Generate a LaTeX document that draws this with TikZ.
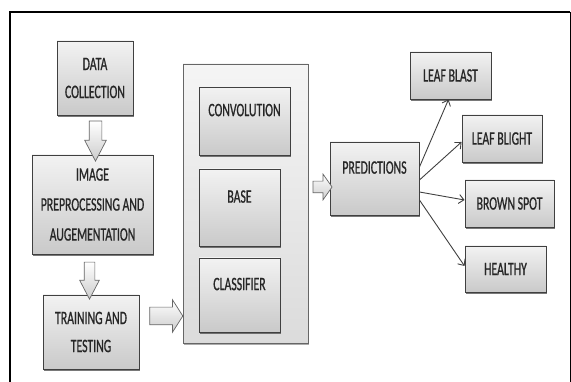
\documentclass[tikz,border=0pt]{standalone}
\usepackage{fontspec}
\setmainfont[FakeStretch=0.62,FakeBold=0.8]{Carlito}
\usetikzlibrary{shapes.arrows,shadows,arrows.meta}

\tikzset{
  stepbox/.style={draw=black!75, line width=0.9pt, top color=gray!10, bottom color=gray!42,
    drop shadow={shadow xshift=1.2pt, shadow yshift=-1.8pt, fill=black!70, opacity=0.75},
    text=black!85, align=center, inner sep=0pt, font=\fontsize{19}{28}\selectfont},
  raised/.style={text depth=22pt},
  hollow/.style={single arrow, draw=black!60, line width=0.7pt, top color=white, bottom color=gray!40,
    inner sep=0pt, minimum size=0pt, single arrow head indent=0pt}
}

\begin{document}
\begin{tikzpicture}[x=1pt,y=-1pt]

  \useasboundingbox (0,0) rectangle (571,382);
  \draw[line width=1.6pt] (10,382) -- (10,12) -- (570,12);
  \draw[line width=0.6pt] (570,12) -- (570,382);

  % model block
  \node[draw=black!60, line width=0.8pt, top color=gray!8, bottom color=gray!28,
        drop shadow={shadow xshift=1.2pt, shadow yshift=-1.8pt, fill=black!55, opacity=0.6},
        minimum width=125pt, minimum height=279pt, inner sep=0pt] (model) at (245.5,203.5) {};

  \begin{scope}[every node/.style={stepbox}]
    \node[minimum width=76pt, minimum height=74pt] (collect) at (95,78) {DATA\\COLLECTION};
    \node[minimum width=121pt, minimum height=99pt, font=\fontsize{19}{30}\selectfont]
      (prep) at (92.5,204.5) {IMAGE\\PREPROCESSING AND\\AUGEMENTATION};
    \node[minimum width=96pt, minimum height=74pt] (train) at (91,332) {TRAINING AND\\TESTING};

    \node[raised, minimum width=91pt, minimum height=68pt] (conv) at (244.5,121) {CONVOLUTION};
    \node[raised, minimum width=81pt, minimum height=77pt] (base) at (239.5,207.5) {BASE};
    \node[raised, minimum width=81pt, minimum height=74pt] (clf) at (239.5,295) {CLASSIFIER};

    \node[raised, minimum width=89pt, minimum height=73pt] (pred) at (374.5,178.5) {PREDICTIONS};

    \node[minimum width=81pt, minimum height=47pt] (blast) at (450.5,75.5) {LEAF BLAST};
    \node[minimum width=80pt, minimum height=47pt] (blight) at (502,138.5) {LEAF BLIGHT};
    \node[minimum width=89pt, minimum height=47pt] (spot) at (509.5,203.5) {BROWN SPOT};
    \node[minimum width=81pt, minimum height=46pt] (healthy) at (505.5,269) {HEALTHY};
  \end{scope}

  % block arrows
  \begin{scope}[every node/.style={hollow}]
    \node[rotate=-90, minimum height=40pt, inner ysep=6pt, single arrow head extend=4.5pt,
          single arrow tip angle=55] (a1) at (95.5,135) {};
    \node[rotate=-90, minimum height=37pt, inner ysep=5pt, single arrow head extend=4.5pt,
          single arrow tip angle=55] (a2) at (89.5,275.5) {};
    \node[minimum height=33pt, inner ysep=8.5pt, single arrow head extend=7.5pt,
          single arrow tip angle=115] (a3) at (163.5,316) {};
    \node[minimum height=19pt, inner ysep=5.5pt, single arrow head extend=7pt,
          single arrow tip angle=110] (a4) at (320.5,187) {};
  \end{scope}

  \begin{scope}[every edge/.style={draw=black!75, line width=0.9pt,
                -{Straight Barb[length=5pt,width=9pt]}}]
    \path ([yshift=11.5pt]pred.east) edge ([xshift=-2pt]blast.south);
    \path ([yshift=-1.5pt]pred.east) edge ([yshift=-3.5pt]blight.west);
    \path ([yshift=-13.5pt]pred.east) edge ([yshift=3.5pt]spot.west);
    \path ([yshift=-21.5pt]pred.east) edge ([yshift=3pt]healthy.west);
  \end{scope}

\end{tikzpicture}
\end{document}
